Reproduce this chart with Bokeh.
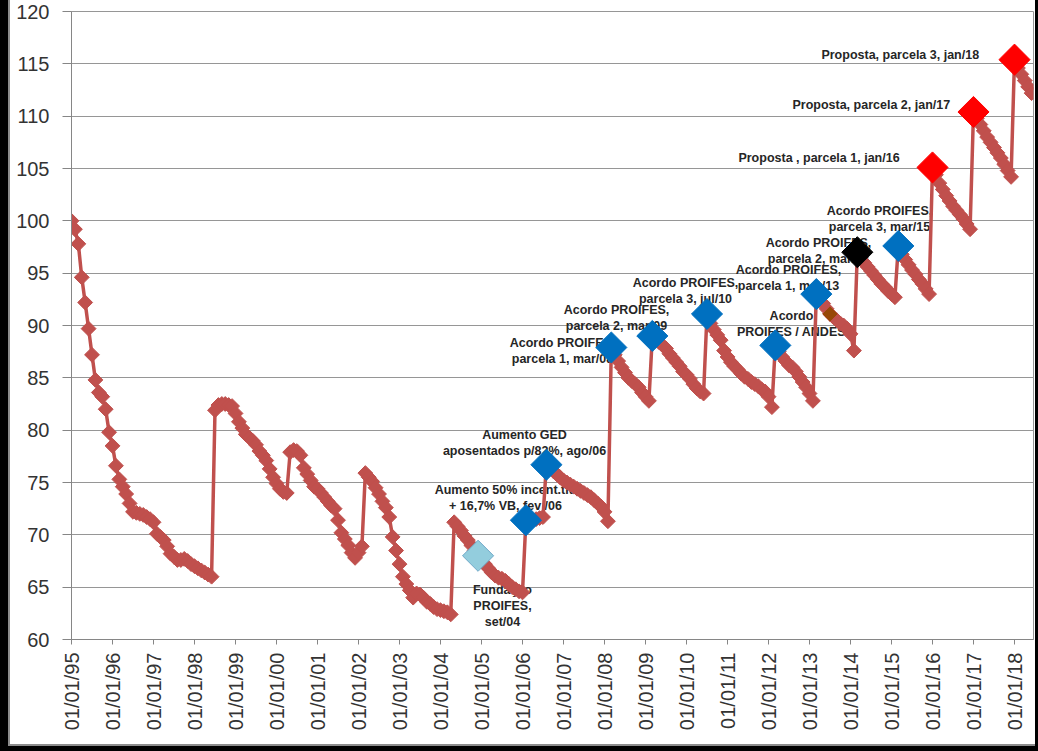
import math
from bokeh.plotting import figure
from bokeh.models import FixedTicker, Range1d, ColumnDataSource
from bokeh.embed import file_html
from bokeh.resources import INLINE
from bokeh.core.properties import value

# ---------------- data ----------------
start_year = 1995
values_1995 = [100.0, 99.2, 97.8, 94.6, 92.2, 89.7, 87.2, 84.8, 83.6, 83.2, 82.0, 79.8]
values_1996 = [78.5, 76.6, 75.3, 74.6, 73.9, 73.0, 72.2, 72.1, 72.0, 71.9, 71.7, 71.5]
values_1997 = [71.2, 70.1, 69.8, 69.5, 68.9, 68.2, 67.9, 67.6, 67.6, 67.7, 67.5, 67.2]
values_1998 = [67.0, 66.8, 66.6, 66.4, 66.2, 66.0, 81.9, 82.4, 82.5, 82.5, 82.4, 82.3]
values_1999 = [81.6, 80.8, 80.2, 79.6, 79.3, 79.0, 78.6, 78.0, 77.6, 77.1, 76.3, 75.5]
values_2000 = [74.9, 74.4, 74.1, 74.0, 77.9, 78.1, 78.0, 77.6, 76.4, 75.8, 75.2, 74.6]
values_2001 = [74.4, 74.0, 73.6, 73.2, 72.8, 72.5, 71.4, 70.2, 69.6, 69.0, 68.3, 67.8]
values_2002 = [68.3, 68.9, 75.9, 75.5, 75.1, 74.5, 73.9, 73.2, 72.6, 71.7, 69.8, 68.5]
values_2003 = [67.2, 66.0, 65.3, 64.7, 64.0, 64.4, 64.3, 64.0, 63.6, 63.4, 63.1, 62.9]
values_2004 = [62.8, 62.7, 62.6, 62.4, 71.2, 70.8, 70.4, 69.9, 69.5, 69.0, 68.5, 68.0]
values_2005 = [67.6, 67.2, 66.8, 66.4, 66.1, 65.9, 65.8, 65.6, 65.3, 65.0, 64.8, 64.6]
values_2006 = [64.5, 71.4, 71.3, 71.4, 71.5, 71.6, 71.7, 76.7, 76.4, 76.1, 75.8, 75.5]
values_2007 = [75.2, 75.0, 74.8, 74.6, 74.4, 74.2, 74.0, 73.8, 73.6, 73.3, 73.0, 72.7]
values_2008 = [72.2, 71.3, 87.9, 87.2, 86.6, 86.0, 85.5, 85.0, 84.7, 84.4, 84.1, 83.6]
values_2009 = [83.2, 82.8, 89.0, 88.7, 88.4, 88.1, 87.8, 87.3, 86.9, 86.5, 86.1, 85.6]
values_2010 = [85.3, 84.9, 84.4, 84.0, 83.7, 83.5, 91.1, 90.2, 89.6, 89.1, 88.6, 87.6]
values_2011 = [87.0, 86.5, 86.1, 85.8, 85.4, 85.1, 84.9, 84.6, 84.4, 84.2, 83.9, 83.7]
values_2012 = [83.2, 82.2, 88.1, 87.5, 87.0, 86.6, 86.2, 86.0, 85.6, 85.1, 84.6, 84.1]
values_2013 = [83.5, 82.8, 93.0, 92.6, 92.1, 91.6, 91.1, 90.8, 90.5, 90.2, 90.0, 89.7]
values_2014 = [89.2, 87.6, 97.0, 96.5, 96.0, 95.6, 95.2, 94.8, 94.4, 94.0, 93.7, 93.3]
values_2015 = [93.0, 92.7, 97.6, 96.8, 96.3, 95.8, 95.3, 94.9, 94.4, 94.0, 93.5, 93.0]
values_2016 = [105.1, 104.4, 103.6, 103.0, 102.4, 101.9, 101.4, 101.0, 100.6, 100.2, 99.7, 99.2]
values_2017 = [110.4, 109.8, 109.2, 108.6, 108.0, 107.5, 107.0, 106.5, 106.0, 105.4, 104.8, 104.2]
values_2018 = [115.4, 114.6, 114.0, 113.4, 112.8, 112.2]

tick_years = list(range(1995, 2019))
tick_labels = ["01/01/95", "01/01/96", "01/01/97", "01/01/98", "01/01/99", "01/01/00",
               "01/01/01", "01/01/02", "01/01/03", "01/01/04", "01/01/05", "01/01/06",
               "01/01/07", "01/01/08", "01/01/09", "01/01/10", "01/01/11", "01/01/12",
               "01/01/13", "01/01/14", "01/01/15", "01/01/16", "01/01/17", "01/01/18"]
y_ticks = [60, 65, 70, 75, 80, 85, 90, 95, 100, 105, 110, 115, 120]

event_labels = ["Fundação\nPROIFES,\nset/04",
                "Aumento 50% incent.tit.\n+ 16,7% VB, fev /06",
                "Aumento GED\naposentados p/82%, ago/06",
                "Acordo PROIFES,\nparcela 1, mar/08",
                "Acordo PROIFES,\nparcela 2, mar/09",
                "Acordo PROIFES,\nparcela 3, jul/10",
                "Acordo\nPROIFES / ANDES",
                "Acordo PROIFES,\nparcela 1, mar/13",
                "Acordo PROIFES,\nparcela 2, mar/14",
                "Acordo PROIFES,\nparcela 3, mar/15",
                "Proposta , parcela 1, jan/16",
                "Proposta, parcela 2, jan/17",
                "Proposta, parcela  3, jan/18"]
event_years = [2004, 2006, 2006, 2008, 2009, 2010, 2012, 2013, 2014, 2015, 2016, 2017, 2018]
event_months = [12, 2, 8, 3, 3, 7, 3, 3, 3, 3, 1, 1, 1]
event_kind = ["fundacao", "acordo", "acordo", "acordo", "acordo", "acordo", "acordo",
              "acordo", "acordo2014", "acordo", "proposta", "proposta", "proposta"]
extra_year = [2013]
extra_month = [7]

# ---------------- layout / style ----------------
label_x = [2005.512, 2005.585, 2006.049, 2006.976, 2008.293, 2009.976, 2012.561,
           2012.488, 2013.22, 2014.707, 2013.232, 2014.507, 2015.256]
label_y = [63.22, 73.56, 78.74, 87.57, 90.73, 93.30, 90.10, 94.50, 97.08, 100.14,
           106.01, 111.03, 115.87]
kind_fill = {"fundacao": "#93CDDD", "acordo": "#0070C0", "acordo2014": "#000000",
             "proposta": "#FF0000"}
kind_line = {"fundacao": "#6FA8C8", "acordo": "#0070C0", "acordo2014": "#000000",
             "proposta": "#FF0000"}
LINE_RED = "#C0504D"
GRID = "#969696"
FONT = "Liberation Sans"

W, H = 1038, 751
FL, FT, FR, FB = 71, 11, 1033, 639   # frame edges in canvas pixels

series = []
for lst in [values_1995, values_1996, values_1997, values_1998, values_1999, values_2000,
            values_2001, values_2002, values_2003, values_2004, values_2005, values_2006,
            values_2007, values_2008, values_2009, values_2010, values_2011, values_2012,
            values_2013, values_2014, values_2015, values_2016, values_2017, values_2018]:
    series.extend(lst)
xs = [start_year + i / 12.0 for i in range(len(series))]


def lookup(y, m):
    i = (y - start_year) * 12 + (m - 1)
    return xs[i], series[i]


ev_x, ev_y = zip(*[lookup(y, m) for y, m in zip(event_years, event_months)])
ex_x, ex_y = zip(*[lookup(y, m) for y, m in zip(extra_year, extra_month)])

px_per_year = 41.0
p = figure(width=W, height=H, output_backend="svg", toolbar_location=None,
           x_range=Range1d(1995, 1995 + (FR - FL) / px_per_year),
           y_range=Range1d(60, 120),
           min_border_left=FL, min_border_right=W - FR, min_border_top=FT,
           min_border_bottom=H - FB)
p.background_fill_color = "white"
p.border_fill_alpha = 0.0
# outer chart-area frame (black edges with a grey inner line), drawn behind the canvas
p.styles = {
    "background-color": "white",
    "box-shadow": ("inset 8px 0 0 0 #000000, inset 0 -5px 0 0 #000000, "
                   "inset -3px 0 0 0 #000000, inset 10px 0 0 0 #8C8C8C, "
                   "inset 0 -7px 0 0 #8C8C8C"),
}
p.outline_line_color = GRID
p.outline_line_width = 1

p.xgrid.visible = False
p.ygrid.grid_line_color = GRID
p.ygrid.grid_line_width = 1
p.ygrid.ticker = FixedTicker(ticks=y_ticks)

p.yaxis.ticker = FixedTicker(ticks=y_ticks)
p.xaxis.ticker = FixedTicker(ticks=tick_years)
p.xaxis.major_label_overrides = {yr: lab for yr, lab in zip(tick_years, tick_labels)}
p.xaxis.major_label_orientation = math.pi / 2

for ax in (p.xaxis[0], p.yaxis[0]):
    ax.axis_line_color = "#868686"
    ax.major_tick_line_color = "#868686"
    ax.minor_tick_line_color = None
    ax.major_tick_in = 0
    ax.major_label_text_font = FONT
    ax.major_label_text_font_size = "20px"
    ax.major_label_text_color = "#333333"
p.yaxis.major_tick_out = 9
p.yaxis.major_label_standoff = 13
p.xaxis.major_tick_out = 5
p.xaxis.major_label_standoff = 8

# annotation texts (under the line)
p.text(x=label_x, y=label_y, text=event_labels, text_font=value(FONT),
       text_font_style="bold", text_font_size="12.5px", text_color="#262626",
       text_align="center", text_baseline="middle", text_line_height=1.15)

src = ColumnDataSource(dict(x=xs, y=series))
p.line("x", "y", source=src, line_color=LINE_RED, line_width=3.5)
p.scatter("x", "y", source=src, marker="square", angle=math.pi / 4, size=10.5,
          fill_color=LINE_RED, line_color=LINE_RED)

ev_src = ColumnDataSource(dict(x=list(ev_x), y=list(ev_y),
                               fill=[kind_fill[k] for k in event_kind],
                               line=[kind_line[k] for k in event_kind]))
p.scatter("x", "y", source=ev_src, marker="square", angle=math.pi / 4, size=22,
          fill_color="fill", line_color="line", line_width=1)
p.scatter(list(ex_x), list(ex_y), marker="square", angle=math.pi / 4, size=10,
          fill_color="#984807", line_color="#984807")

open("out.html", "w").write(file_html(p, INLINE))
